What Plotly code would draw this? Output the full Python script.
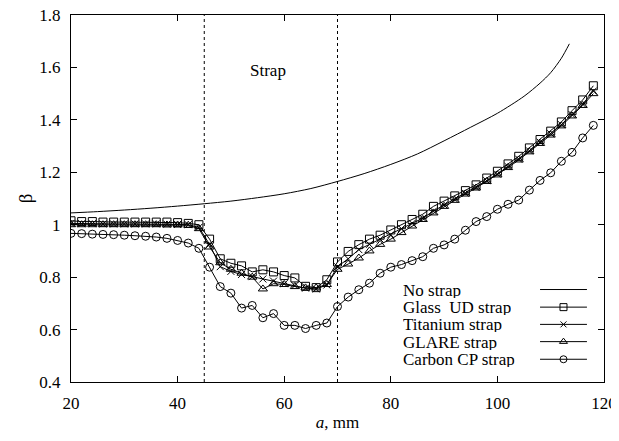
import plotly.graph_objects as go

# ---------------- data ----------------
a_vals = list(range(20, 120, 2))  # 20..118

glass_ud = [1.015, 1.012, 1.012, 1.010, 1.010, 1.010, 1.010, 1.010, 1.010, 1.010, 1.008, 1.005, 1.000,
            0.945, 0.870, 0.853, 0.843, 0.820, 0.828, 0.820, 0.806, 0.797, 0.765, 0.760, 0.790, 0.858,
            0.898, 0.924, 0.945, 0.960, 0.980, 1.000, 1.020, 1.040, 1.070, 1.090, 1.110, 1.130, 1.152,
            1.178, 1.204, 1.232, 1.261, 1.293, 1.325, 1.357, 1.392, 1.435, 1.476, 1.530]

titanium = [1.005, 1.004, 1.004, 1.003, 1.003, 1.003, 1.003, 1.003, 1.003, 1.002, 1.001, 1.000, 0.990,
            0.925, 0.840, 0.822, 0.810, 0.802, 0.793, 0.785, 0.775, 0.768, 0.758, 0.755, 0.770, 0.840,
            0.870, 0.905, 0.925, 0.945, 0.962, 0.985, 1.005, 1.025, 1.052, 1.075, 1.097, 1.120, 1.142,
            1.168, 1.193, 1.222, 1.250, 1.282, 1.315, 1.347, 1.382, 1.420, 1.460, 1.510]

glare = [1.000, 1.000, 1.000, 1.000, 1.000, 1.000, 1.000, 1.000, 1.000, 0.999, 0.999, 0.998, 0.985,
         0.915, 0.855, 0.830, 0.815, 0.800, 0.755, 0.775, 0.772, 0.764, 0.759, 0.759, 0.772, 0.830,
         0.850, 0.873, 0.900, 0.925, 0.945, 0.970, 0.995, 1.020, 1.045, 1.070, 1.093, 1.117, 1.140,
         1.165, 1.190, 1.218, 1.247, 1.278, 1.310, 1.342, 1.377, 1.415, 1.455, 1.500]

carbon_cp = [0.967, 0.966, 0.964, 0.963, 0.962, 0.960, 0.958, 0.956, 0.953, 0.948, 0.940, 0.930, 0.910,
             0.838, 0.764, 0.739, 0.682, 0.692, 0.645, 0.661, 0.616, 0.616, 0.604, 0.616, 0.625, 0.688,
             0.724, 0.752, 0.777, 0.815, 0.838, 0.848, 0.863, 0.878, 0.910, 0.923, 0.945, 0.979, 1.012,
             1.031, 1.059, 1.078, 1.094, 1.132, 1.169, 1.198, 1.242, 1.276, 1.331, 1.379]

no_strap_a = [20, 25, 30, 35, 40, 45, 50, 55, 60, 65, 70, 75, 80, 85, 90, 95, 100, 105, 108, 110, 112, 113.5]
no_strap = [1.045, 1.050, 1.056, 1.063, 1.071, 1.080, 1.090, 1.103, 1.118, 1.138, 1.165, 1.195, 1.230,
            1.270, 1.320, 1.372, 1.425, 1.490, 1.540, 1.580, 1.635, 1.690]

strap_bounds = [45, 70]

x_ticks = [20, 40, 60, 80, 100, 120]
y_ticks = [0.4, 0.6, 0.8, 1.0, 1.2, 1.4, 1.6, 1.8]
y_ticktext = ["0.4", "0.6", "0.8", "1", "1.2", "1.4", "1.6", "1.8"]

series_names = ["No strap", "Glass\u00a0\u00a0UD strap", "Titanium strap", "GLARE strap", "Carbon CP strap"]
series_symbols = [None, "square-open", "x-thin", "triangle-up-open", "circle-open"]
series_sizes = [0, 8, 7, 8, 8]

FONT = "Liberation Serif, Times New Roman, serif"

fig = go.Figure()

# no strap curve
fig.add_trace(go.Scatter(x=no_strap_a, y=no_strap, mode="lines",
                         line=dict(color="black", width=1, shape="spline", smoothing=0.8),
                         showlegend=False, hoverinfo="skip"))

data_series = [glass_ud, titanium, glare, carbon_cp]
for vals, sym, sz in zip(data_series, series_symbols[1:], series_sizes[1:]):
    fig.add_trace(go.Scatter(
        x=a_vals, y=vals, mode="lines+markers",
        line=dict(color="black", width=1),
        marker=dict(symbol=sym, size=sz, color="black", line=dict(color="black", width=1)),
        showlegend=False))

# strap boundaries
for xb in strap_bounds:
    fig.add_shape(type="line", xref="x", yref="paper", x0=xb, x1=xb, y0=0, y1=1,
                  line=dict(color="black", width=1, dash="dot"))

fig.add_annotation(x=57, y=1.59, xref="x", yref="y", text="Strap", showarrow=False,
                   font=dict(family=FONT, size=17, color="black"))

# custom legend (text left, sample right) on an overlay axis
leg_y = [0.252, 0.204, 0.157, 0.110, 0.062]
for name, sym, sz, yy in zip(series_names, series_symbols, series_sizes, leg_y):
    fig.add_annotation(x=0.621, y=yy, xref="paper", yref="paper", text=name, showarrow=False,
                       xanchor="left", yanchor="middle", height=16, borderpad=0, valign="middle",
                       font=dict(family=FONT, size=17, color="black"))
    fig.add_trace(go.Scatter(x=[0.88, 0.968], y=[yy, yy], xaxis="x2", yaxis="y2", mode="lines",
                             line=dict(color="black", width=1), showlegend=False, hoverinfo="skip"))
    if sym:
        fig.add_trace(go.Scatter(x=[0.924], y=[yy], xaxis="x2", yaxis="y2", mode="markers",
                                 marker=dict(symbol=sym, size=sz - 1, color="black",
                                             line=dict(color="black", width=1)),
                                 showlegend=False, hoverinfo="skip"))

axis_common = dict(showline=True, linecolor="black", linewidth=1, mirror="ticks", ticks="inside",
                   ticklen=6, tickcolor="black", showgrid=False, zeroline=False, automargin=False,
                   ticklabelstandoff=6, ticklabeloverflow="allow",
                   tickfont=dict(family=FONT, size=17, color="black"))

# the page body adds an 8px offset, so the figure is sized/positioned to compensate
fig.update_layout(
    width=611, height=433,
    margin=dict(l=63, r=15, t=7, b=59),
    paper_bgcolor="white", plot_bgcolor="white",
    font=dict(family=FONT, color="black"),
    xaxis=dict(range=[20, 120], tickvals=x_ticks,
               title=dict(text="<i>a</i>, mm", font=dict(family=FONT, size=17), standoff=3),
               **axis_common),
    yaxis=dict(range=[0.4, 1.8], tickvals=y_ticks, ticktext=y_ticktext,
               title=dict(text="β", font=dict(family=FONT, size=19), standoff=1),
               **axis_common),
    xaxis2=dict(overlaying="x", range=[0, 1], visible=False),
    yaxis2=dict(overlaying="y", range=[0, 1], visible=False),
)

fig.write_html("out.html")
